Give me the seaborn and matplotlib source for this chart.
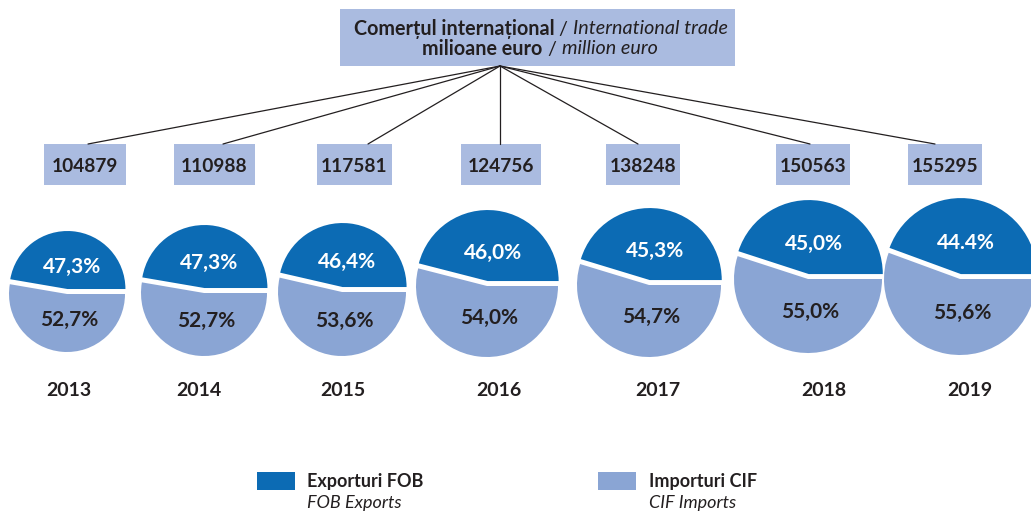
"""
Romania international trade 2013-2019: totals and export/import shares as pies.
"""

import matplotlib
matplotlib.use("Agg")
import matplotlib.pyplot as plt
import seaborn as sns
from matplotlib.patches import Rectangle

# ---- data ----
years = ['2013', '2014', '2015', '2016', '2017', '2018', '2019']
totals = [104879, 110988, 117581, 124756, 138248, 150563, 155295]
exports_pct = [47.3, 47.3, 46.4, 46.0, 45.3, 45.0, 44.4]
imports_pct = [52.7, 52.7, 53.6, 54.0, 54.7, 55.0, 55.6]
# the source prints the 2019 export share with a dot instead of a comma
export_sep = [',', ',', ',', ',', ',', ',', '.']
series_ro = ['Exporturi FOB', 'Importuri CIF']
series_en = ['FOB Exports', 'CIF Imports']
title_lines = [
    [('Comerțul internațional', 'bold'), (' / ', 'normal'), ('International trade', 'italic')],
    [('milioane euro', 'bold'), (' / ', 'normal'), ('million euro', 'italic')],
]

# ---- layout (pixels, y downwards) ----
W, H = 1031, 511
pie_cx = [67, 204, 342, 487, 649, 808, 960]
pie_cy = [294, 293, 292, 286, 285, 279, 279]
pie_r = [58, 63, 64, 71, 72, 74, 76]
box_left = [44, 174, 317, 461, 606, 776, 908]
box_right = [126, 255, 392, 541, 680, 850, 982]
box_top, box_bottom = 144, 185
line_end_x = [88, 223, 368, 500, 638, 810, 935]
hub = (500, 66)
year_x = [69, 199, 343, 499, 658, 824, 970]

DARK = '#0c6bb4'
LIGHT = '#8aa5d4'
BOX = '#aabbe0'
INK = '#231f20'

sns.set_theme(style='white')
plt.rcParams['font.family'] = ['Lato', 'DejaVu Sans']
colors = sns.color_palette([DARK, LIGHT])

fig = plt.figure(figsize=(W / 100, H / 100), dpi=100)
ax = fig.add_axes([0, 0, 1, 1])
ax.set_xlim(0, W)
ax.set_ylim(H, 0)


def rich_line(ax, pieces, xc, y, size):
    """Draw bold/normal/italic pieces side by side, centred on xc."""
    renderer = fig.canvas.get_renderer()
    texts = []
    for s, style in pieces:
        kw = dict(fontsize=size, color=INK, va='center', ha='left')
        if style == 'bold':
            kw['fontweight'] = 'bold'
        elif style == 'italic':
            kw['fontstyle'] = 'italic'
        texts.append(ax.text(0, y, s, **kw))
    widths = [t.get_window_extent(renderer).width for t in texts]
    x = xc - sum(widths) / 2
    for t, w in zip(texts, widths):
        t.set_x(x)
        x += w


# title box
ax.add_patch(Rectangle((340, 9), 395, 57, facecolor=BOX, edgecolor='none'))
rich_line(ax, title_lines[0], 541, 29, 14.2)
rich_line(ax, title_lines[1], 540, 49, 14.2)

# connectors and totals
for i, tot in enumerate(totals):
    ax.plot([hub[0], line_end_x[i]], [hub[1], box_top], color=INK, lw=0.9)
    ax.add_patch(Rectangle((box_left[i], box_top), box_right[i] - box_left[i],
                           box_bottom - box_top, facecolor=BOX, edgecolor='none'))
    ax.text((box_left[i] + box_right[i]) / 2, 166, str(tot), fontsize=13.8,
            fontweight='bold', color=INK, ha='center', va='center')

# pies
for i in range(len(years)):
    r = pie_r[i]
    ax.pie([exports_pct[i], imports_pct[i]], colors=colors, startangle=0,
           counterclock=False, radius=r, center=(pie_cx[i], pie_cy[i]),
           explode=(5, 0), wedgeprops=dict(linewidth=0))
    exp_lbl = f"{exports_pct[i]:.1f}".replace('.', export_sep[i]) + '%'
    imp_lbl = f"{imports_pct[i]:.1f}".replace('.', ',') + '%'
    ax.text(pie_cx[i] + 0.08 * r, pie_cy[i] - 0.47 * r, exp_lbl, fontsize=15,
            fontweight='bold', color='white', ha='center', va='center')
    ax.text(pie_cx[i] + 0.03 * r, pie_cy[i] + 0.45 * r, imp_lbl, fontsize=15,
            fontweight='bold', color=INK, ha='center', va='center')
    ax.text(year_x[i], 391, years[i], fontsize=14, fontweight='bold',
            color=INK, ha='center', va='center')

# legend
leg_patch_x = [257, 598]
leg_text_x = [307, 649]
for j in range(2):
    ax.add_patch(Rectangle((leg_patch_x[j], 472), 38, 18, facecolor=colors[j],
                           edgecolor='none'))
    ax.text(leg_text_x[j], 482, series_ro[j], fontsize=13, fontweight='bold',
            color=INK, ha='left', va='center')
    ax.text(leg_text_x[j], 503, series_en[j], fontsize=13, fontstyle='italic',
            color=INK, ha='left', va='center')

ax.set_xlim(0, W)
ax.set_ylim(H, 0)
ax.set_aspect('equal', adjustable='box')
ax.axis('off')

fig.savefig('out.png', dpi=100)
plt.close(fig)
